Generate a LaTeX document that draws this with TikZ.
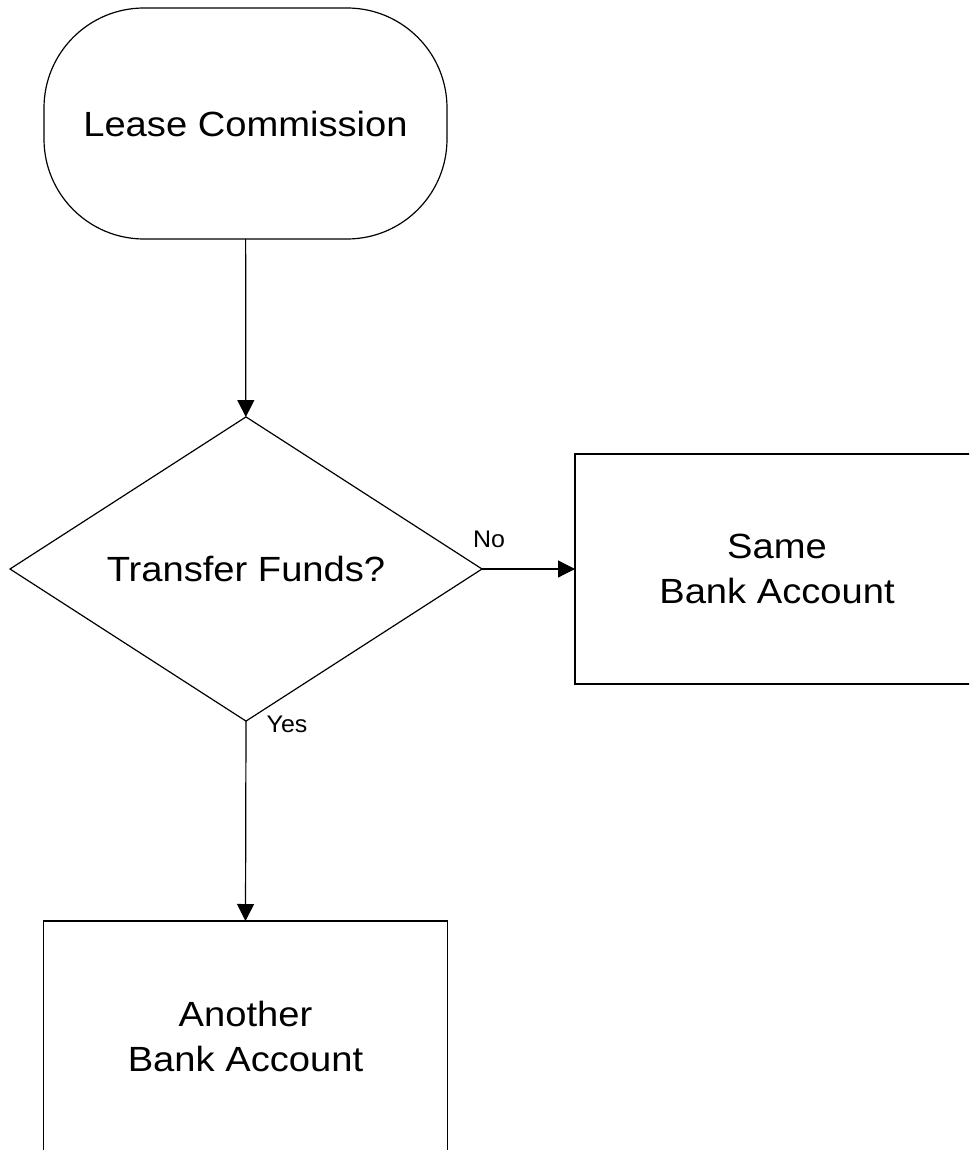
\documentclass[tikz,border=0pt]{standalone}
\usepackage{fontspec}
\setmainfont{Liberation Sans}[FakeStretch=1.09]
\newfontfamily\lblfont{Liberation Sans}[FakeStretch=1.04]
\usepackage{tikz}
\usetikzlibrary{shapes.geometric}
\usetikzlibrary{arrows.meta}
\usetikzlibrary{positioning}
\usetikzlibrary{calc}

\begin{document}
\begin{tikzpicture}[x=0.5pt,y=-0.5pt,line width=0.6pt,
    box/.style={draw,inner sep=0pt,outer sep=0pt,align=center,
      font=\fontsize{17.5}{22.5}\selectfont},
    term/.style={box,rectangle,rounded corners=50pt,minimum width=201.5pt,minimum height=115.5pt},
    proc/.style={box,rectangle,minimum width=202pt,minimum height=115pt},
    dec/.style={box,diamond,minimum width=236pt,minimum height=152pt},
    lbl/.style={inner sep=0pt,font=\lblfont\fontsize{12}{14}\selectfont},
    flow/.style={-{Triangle[length=8.5pt,width=8.5pt]}}]
    \useasboundingbox (0,0) rectangle (969,1150);
    \clip (0,0) rectangle (969,1150);
    \node[term] (lease) at (245.5,123.5) {Lease Commission};
    \node[dec] (xfer) at (246,569) {Transfer Funds?};
    \node[proc] (same) at (777,569) {Same\\Bank Account};
    \node[proc] (other) at (245.5,1036) {Another\\Bank Account};
    \draw[flow] (lease) -- (xfer);
    \draw[flow] (xfer.east) -- (same.west);
    \draw[flow] (xfer.south) -- (other.north);
    \node[lbl] (no) at ([shift={(3.5pt,15pt)}]xfer.east) {No};
    \node[lbl] (yes) at ([shift={(20.5pt,-1.5pt)}]xfer.south) {Yes};
\end{tikzpicture}
\end{document}
